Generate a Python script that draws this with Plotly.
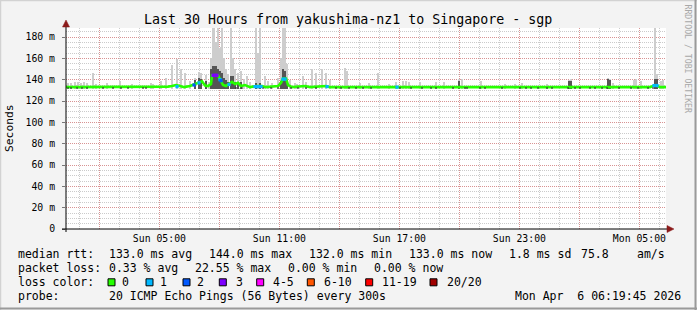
import pandas as pd
import plotly.graph_objects as go

# ---------------- data ----------------
title_text = "Last 30 Hours from yakushima-nz1 to Singapore - sgp"
win_start = "2026-04-05 00:19:45"
win_end = "2026-04-06 06:19:45"
day0 = "2026-04-05 00:00:00"   # Sunday 00:00, reference for hour offsets

# median rtt breakpoints (hours since Sun 00:00, ms)
med_h = [0.33, 5.03, 5.43, 5.63, 5.83, 6.03, 6.23, 6.53, 6.78, 6.98, 7.13, 7.28, 7.43, 7.58,
         7.63, 7.93, 8.03, 8.18, 8.33, 8.48, 8.63, 8.78, 8.93, 9.08, 9.28, 9.53, 9.83, 10.13,
         10.33, 10.93, 11.08, 11.18, 11.33, 11.43, 11.63, 12.28, 12.53, 13.33, 13.53, 29.53,
         29.73, 29.88, 30.03, 30.33]
med_v = [133, 133, 133.5, 134, 135, 134, 133, 134, 136, 137, 138.5, 134.5, 134, 136,
         144, 144, 140, 135, 134, 136, 138, 136, 137, 134, 135, 133, 134, 134,
         133, 134, 137, 141, 141, 135, 133, 134, 133, 134, 133, 133,
         134.5, 134.5, 133, 133]

# smoke (min..max of pings): hours, top ms
smoke_h = [0.43, 0.58, 0.78, 0.93, 1.08, 1.23, 1.38, 1.68, 1.83, 2.38, 3.03, 3.63, 4.58, 4.68,
           5.08, 5.33, 5.63, 5.88, 6.08, 6.28, 6.53, 6.78, 6.98, 7.08, 7.33, 7.48, 7.58, 7.68,
           7.75, 7.83, 7.93, 8.03, 8.13, 8.23, 8.33, 8.43, 8.58, 8.68, 8.78, 8.93, 9.08, 9.23,
           9.38, 9.53, 9.83, 9.93, 10.03, 10.28, 10.43, 10.63, 10.93, 11.08, 11.18, 11.28, 11.38,
           11.53, 11.78, 11.88, 12.18, 12.33, 12.63, 12.83, 13.13, 13.33, 13.53, 14.28, 14.38,
           15.03, 15.48, 15.93, 16.48, 16.83, 17.18, 17.33, 17.48, 18.03, 18.83, 19.23, 19.98,
           20.13, 21.08, 22.28, 22.78, 23.13, 24.38, 25.48, 25.58, 27.43, 27.53, 27.68, 28.73,
           28.83, 29.08, 29.78, 29.88, 30.08, 30.18]
smoke_top = [137, 137, 137.5, 138, 137, 137.5, 137, 146, 136, 137, 139, 136, 137, 136,
             139, 142, 154, 159, 150, 146, 139, 142, 147, 146, 144, 138, 160, 195,
             195, 175, 195, 170, 195, 160, 150, 145, 195, 160, 150, 146, 148, 141,
             143, 138, 195, 165, 195, 143, 139, 137, 142, 160, 195, 195, 155,
             140, 137, 136, 143, 138, 150, 146, 150, 146, 140, 151, 148,
             137, 137, 146.5, 136, 138, 139, 139, 138, 138, 138, 138, 141,
             141, 139, 136, 136, 137, 136, 140, 141, 142, 141, 137, 140,
             141, 139, 195, 145, 139, 140]
smoke_floor = 131.5

# dark smoke (inner pings): hours, top ms
dark_h = [6.78, 6.98, 7.08, 7.33, 7.58, 7.68, 7.75, 7.83, 7.93, 8.03, 8.13, 8.23, 8.33, 8.43,
          8.58, 8.68, 8.78, 8.93, 9.08, 9.83, 10.03, 11.08, 11.18, 11.28, 11.38, 19.98,
          25.48, 25.58, 27.43, 27.53, 29.78, 29.88]
dark_top = [140, 142, 141, 139, 150, 153, 153, 153, 150, 148, 146, 142, 140, 138,
            143, 143, 138, 137, 138, 137, 137, 139, 150, 148, 140, 139,
            139, 139, 141, 140, 141, 141]

# median samples with packet loss: hours, ms, loss class index
loss_h = [5.88, 6.73, 6.98, 7.68, 7.73, 7.78, 7.83, 7.88, 8.03, 8.08, 8.48, 9.78, 9.88,
          9.98, 10.08, 11.18, 11.28, 13.38, 16.88, 29.73, 29.88]
loss_v = [133.5, 135, 137, 144, 144, 144, 144, 144, 140, 139, 135.5, 133.5, 133.5,
          133.5, 133.5, 140.5, 140.5, 133.5, 133, 134.5, 134.5]
loss_cls = [1, 2, 1, 3, 3, 3, 3, 3, 1, 2, 1, 1, 1,
            1, 1, 1, 1, 1, 1, 1, 1]

# dark specks along the median line
speck_h = [0.43, 0.58, 0.88, 1.13, 1.38, 2.18, 2.68, 3.08, 3.43, 4.18, 4.33, 8.83, 9.13,
           10.18, 10.58, 10.93, 11.58, 11.93, 12.33, 12.83, 13.83, 14.08, 14.48, 14.83, 15.18,
           15.58, 17.03, 17.58, 18.13, 18.58, 18.83, 19.68, 20.28, 20.38, 21.03, 21.28, 22.13,
           23.03, 23.33, 23.58, 23.93, 24.38, 24.63, 25.43, 25.78, 26.03, 26.53, 26.78, 27.13,
           27.38, 27.98, 28.58, 28.93, 29.43, 29.68]
speck_v = 132.2

loss_labels = ["0", "1", "2", "3", "4-5", "6-10", "11-19", "20/20"]
loss_colors = ["#26ff00", "#00b8ff", "#0059ff", "#7e00ff", "#ff00ff", "#ff5500", "#ff0000", "#a10000"]

y_vals = [0, 20, 40, 60, 80, 100, 120, 140, 160, 180]
y_text = ["0", "20 m", "40 m", "60 m", "80 m", "100 m", "120 m", "140 m", "160 m", "180 m"]
y_max = 188.44

x_tick_times = ["2026-04-05 02:00", "2026-04-05 05:00", "2026-04-05 08:00", "2026-04-05 11:00",
                "2026-04-05 14:00", "2026-04-05 17:00", "2026-04-05 20:00", "2026-04-05 23:00",
                "2026-04-06 02:00", "2026-04-06 05:00"]
x_tick_text = ["", "Sun 05:00", "", "Sun 11:00", "", "Sun 17:00", "", "Sun 23:00", "", "Mon 05:00"]

legend_rows = [
    [("median rtt:", 16), ("133.0 ms avg", 107), ("144.0 ms max", 207), ("132.0 ms min", 307),
     ("133.0 ms now", 407), ("1.8 ms sd", 507), ("75.8", 579), ("am/s", 635)],
    [("packet loss:", 16), ("0.33 % avg", 107), ("22.55 % max", 193), ("0.00 % min", 286),
     ("0.00 % now", 372)],
    [("loss color:", 16)],
    [("probe:", 16), ("20 ICMP Echo Pings (56 Bytes) every 300s", 107),
     ("Mon Apr  6 06:19:45 2026", 513)],
]
legend_row_y = [254, 268.3, 282.3, 296.3]
swatch_x = [108, 146, 183, 219.3, 256.7, 307.3, 365.7, 430]
swatch_label_x = [120, 158, 195, 234, 270.7, 321.7, 380, 445]

# ---------------- geometry helpers ----------------
W, H = 697, 310
L, R, T, B = 66, 666, 28, 229
MONO = "DejaVu Sans Mono"


def px(x):
    return (x - L) / (R - L)


def py(y):
    return (B - y) / (B - T)


base = pd.Timestamp(day0)


def to_t(hours):
    return [base + pd.to_timedelta(h, unit="h") for h in hours]


fig = go.Figure()

# light smoke
fig.add_trace(go.Bar(
    x=to_t(smoke_h), y=[v - smoke_floor for v in smoke_top], base=smoke_floor,
    width=6 * 60 * 1000, marker=dict(color="#cdcdcd", line=dict(width=0)),
    hoverinfo="skip"))
# dark smoke
fig.add_trace(go.Bar(
    x=to_t(dark_h), y=[v - smoke_floor for v in dark_top], base=smoke_floor,
    width=4 * 60 * 1000, marker=dict(color="#555555", line=dict(width=0)),
    hoverinfo="skip"))
# median line
fig.add_trace(go.Scatter(
    x=to_t(med_h), y=med_v, mode="lines",
    line=dict(color=loss_colors[0], width=2.6), hoverinfo="skip"))
# specks
fig.add_trace(go.Scatter(
    x=to_t(speck_h), y=[speck_v] * len(speck_h), mode="markers",
    marker=dict(symbol="square", size=1.5, color="#333333", line=dict(width=0)),
    hoverinfo="skip"))
# loss-coloured median samples
fig.add_trace(go.Scatter(
    x=to_t(loss_h), y=loss_v, mode="markers",
    marker=dict(symbol="square", size=3.2, color=[loss_colors[c] for c in loss_cls],
                line=dict(width=0)),
    hoverinfo="skip"))

grid_red = "rgba(225,110,110,0.6)"
grid_gray = "rgba(160,160,160,0.55)"

fig.update_layout(
    width=W, height=H,
    margin=dict(l=L, r=W - R, t=T, b=H - B),
    paper_bgcolor="#f3f3f3", plot_bgcolor="#ffffff",
    showlegend=False, barmode="overlay", bargap=0,
    font=dict(family=MONO, size=10, color="#000000"),
    xaxis=dict(
        type="date", range=[win_start, win_end],
        tickmode="array", tickvals=x_tick_times, ticktext=x_tick_text,
        showgrid=True, gridcolor=grid_red, griddash="1px,1px", gridwidth=1,
        minor=dict(dtick=3600000, tick0="2026-04-05 01:00", showgrid=True,
                   gridcolor=grid_gray, griddash="1px,1px", gridwidth=1),
        showline=False, zeroline=False, ticks="", ticklabelstandoff=2,
        tickfont=dict(family=MONO, size=9.8, color="#000000"),
        fixedrange=True),
    yaxis=dict(
        range=[0, y_max], tickmode="array", tickvals=y_vals, ticktext=y_text,
        showgrid=True, gridcolor=grid_red, griddash="1px,1px", gridwidth=1,
        minor=dict(dtick=5, tick0=0, showgrid=True,
                   gridcolor=grid_gray, griddash="1px,1px", gridwidth=1),
        showline=False, zeroline=False, ticks="outside", ticklen=3, tickcolor="#777777",
        ticklabelstandoff=5,
        tickfont=dict(family=MONO, size=9.8, color="#000000"),
        fixedrange=True),
)

shapes = []
# axes with arrows
shapes.append(dict(type="line", xref="paper", yref="paper", x0=px(62), x1=px(668), y0=py(229), y1=py(229),
                   line=dict(color="#000000", width=1)))
shapes.append(dict(type="line", xref="paper", yref="paper", x0=px(66), x1=px(66), y0=py(232), y1=py(26),
                   line=dict(color="#000000", width=1)))
shapes.append(dict(type="path", xref="paper", yref="paper",
                   path=f"M {px(667)} {py(225.5)} L {px(674)} {py(229)} L {px(667)} {py(232.5)} Z",
                   fillcolor="#8b1a1a", line=dict(color="#8b1a1a", width=0.5)))
shapes.append(dict(type="path", xref="paper", yref="paper",
                   path=f"M {px(62.5)} {py(27)} L {px(66)} {py(20)} L {px(69.5)} {py(27)} Z",
                   fillcolor="#8b1a1a", line=dict(color="#8b1a1a", width=0.5)))
# frame
shapes.append(dict(type="line", xref="paper", yref="paper", x0=px(0), x1=px(697), y0=py(0.5), y1=py(0.5),
                   line=dict(color="#d2d2d2", width=1.5)))
shapes.append(dict(type="line", xref="paper", yref="paper", x0=px(0.5), x1=px(0.5), y0=py(0), y1=py(310),
                   line=dict(color="#d2d2d2", width=1.5)))
shapes.append(dict(type="line", xref="paper", yref="paper", x0=px(0), x1=px(697), y0=py(308.5), y1=py(308.5),
                   line=dict(color="#9a9a9a", width=2)))
shapes.append(dict(type="line", xref="paper", yref="paper", x0=px(695.5), x1=px(695.5), y0=py(0), y1=py(310),
                   line=dict(color="#9a9a9a", width=2)))
# loss colour swatches
for sx, col in zip(swatch_x, loss_colors):
    shapes.append(dict(type="rect", xref="paper", yref="paper",
                       x0=px(sx), x1=px(sx + 7), y0=py(278.8), y1=py(285.8),
                       fillcolor=col, line=dict(color="#000000", width=1)))
fig.update_layout(shapes=shapes)

NB = "\u00a0"
ann = []
ann.append(dict(text=title_text.replace(" ", NB), x=px(347.5), y=py(19), xref="paper", yref="paper",
                showarrow=False, xanchor="center", yanchor="middle",
                font=dict(family=MONO, size=13.3, color="#000000")))
ann.append(dict(text="Seconds", x=px(10), y=py(128), xref="paper", yref="paper", textangle=-90,
                showarrow=False, xanchor="center", yanchor="middle",
                font=dict(family=MONO, size=11.3, color="#000000")))
ann.append(dict(text="RRDTOOL / TOBI OETIKER".replace(" ", NB), x=px(687.5), y=py(59), xref="paper",
                yref="paper", textangle=90, showarrow=False, xanchor="center", yanchor="middle",
                font=dict(family=MONO, size=8.2, color="#a8a8a8")))
for row, ry in zip(legend_rows, legend_row_y):
    for txt, lx in row:
        ann.append(dict(text=txt.replace(" ", NB), x=px(lx), y=py(ry), xref="paper", yref="paper",
                        showarrow=False, xanchor="left", yanchor="middle",
                        font=dict(family=MONO, size=11.5, color="#000000")))
for lab, lx in zip(loss_labels, swatch_label_x):
    ann.append(dict(text=lab, x=px(lx), y=py(legend_row_y[2]), xref="paper", yref="paper",
                    showarrow=False, xanchor="left", yanchor="middle",
                    font=dict(family=MONO, size=11.5, color="#000000")))
fig.update_layout(annotations=ann)

fig.write_html("out.html", config={"displayModeBar": False})
